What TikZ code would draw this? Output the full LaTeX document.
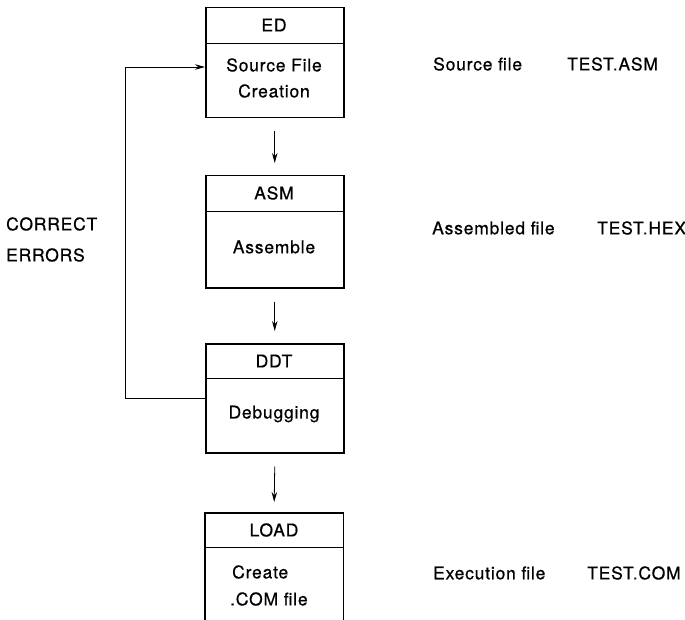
\documentclass[tikz,border=0pt]{standalone}
\usepackage{fontspec}
\setmainfont{TeX Gyre Heros}[LetterSpace=4.5,FakeBold=0.6]
\usetikzlibrary{arrows.meta}
\begin{document}
\begin{tikzpicture}[x=1pt,y=-1pt,
  box/.style={draw, line width=1.5pt, minimum width=138pt, anchor=north west, inner sep=0pt},
  openbox/.style={draw=none, minimum width=138pt, anchor=north west, inner sep=0pt},
  divider/.style={line width=0.8pt},
  lbl/.style={font=\fontsize{17.5}{20}\selectfont, inner sep=0pt},
  arr/.style={-{Stealth[length=10pt,width=5.5pt]}, line width=0.8pt}]
\useasboundingbox (0,0) rectangle (685,620);

% boxes
\node[box, minimum height=110pt] (ed) at (205,7) {};
\draw[divider] (205,43) -- (343,43);
\node[lbl] (edh) at (274,25) {ED};
\node[lbl] (edt1) at (274,65) {Source File};
\node[lbl] (edt2) at (274,91) {Creation};

\node[box, minimum height=112pt] (asm) at (205,175) {};
\draw[divider] (205,211) -- (343,211);
\node[lbl] (asmh) at (274,193) {ASM};
\node[lbl] (asmt) at (274,247) {Assemble};

\node[box, minimum height=109pt] (ddt) at (205,343) {};
\draw[divider] (205,378) -- (343,378);
\node[lbl] (ddth) at (274,361) {DDT};
\node[lbl] (ddtt) at (274,414) {Debugging};

\node[openbox, minimum height=112pt] (load) at (205,513) {};
\draw[line width=1.5pt] (load.south west) -- (load.north west) -- (load.north east) -- (load.south east);
\draw[divider] (205,547) -- (343,547);
\node[lbl] (loadh) at (274,530) {LOAD};
\node[lbl, anchor=west] (loadt1) at (232,572) {Create};
\node[lbl, anchor=west] (loadt2) at (230,599) {.COM file};

% arrows
\draw[arr] ([yshift=-13pt]ed.south) -- ([yshift=12pt]asm.north);
\draw[arr] ([yshift=-13pt]asm.south) -- ([yshift=12pt]ddt.north);
\draw[arr] ([yshift=-13pt]ddt.south) -- ([yshift=11pt]load.north);

% loop
\coordinate (c1) at (125,398);
\coordinate (c2) at (125,67);
\draw[arr] (ddt.west |- c1) -- (c1) -- (c2) -- (ed.west |- c2);
\node[lbl, anchor=west] (ce1) at (6,224) {CORRECT};
\node[lbl, anchor=west] (ce2) at (6,255) {ERRORS};

% right labels
\node[lbl, anchor=west] (r1a) at (433,64) {Source file};
\node[lbl, anchor=west] (r1b) at (567,64) {TEST.ASM};
\node[lbl, anchor=west] (r2a) at (432,228) {Assembled file};
\node[lbl, anchor=west] (r2b) at (597,228) {TEST.HEX};
\node[lbl, anchor=west] (r3a) at (433,573) {Execution file};
\node[lbl, anchor=west] (r3b) at (587,573) {TEST.COM};
\end{tikzpicture}
\end{document}
